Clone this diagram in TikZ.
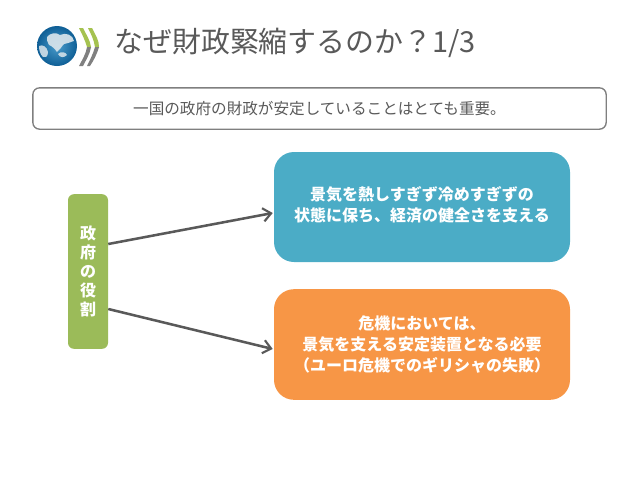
\documentclass[tikz,border=0pt]{standalone}
\usepackage{fontspec}
\setmainfont{Noto Sans CJK JP}
\usetikzlibrary{arrows.meta,calc}
\definecolor{txtgray}{HTML}{595959}
\definecolor{linegray}{HTML}{7F7F7F}
\definecolor{arrowgray}{HTML}{595959}
\definecolor{teal1}{HTML}{4BACC6}
\definecolor{orange1}{HTML}{F79646}
\definecolor{green1}{HTML}{9BBB59}
\definecolor{globein}{HTML}{4A9CCB}
\definecolor{globeout}{HTML}{0F5F96}
\definecolor{landc}{HTML}{DCE6EC}
\tikzset{
  panel/.style={rounded corners=15pt,minimum width=222pt,align=center,text=white,font=\fontsize{12}{16}\selectfont\bfseries,inner sep=0pt},
  conn/.style={draw=arrowgray,line width=1.9pt,-{Straight Barb[length=6pt,width=10pt,line width=1.6pt]}},
}
\begin{document}
\begin{tikzpicture}[x=0.75pt,y=-0.75pt]
\useasboundingbox (0,0) rectangle (638,479);
% logo
\shade[inner color=globein,outer color=globeout] (57,46) circle (20);
\fill[landc,opacity=.9] (47,37) .. controls (50,33) and (56,32) .. (60,35) .. controls (66,32) and (73,35) .. (74,41) .. controls (70,42) and (67,44) .. (64,44) .. controls (61,47) and (60,50) .. (57,52) .. controls (55,49) and (52,46) .. (49,45) .. controls (48,42) and (46,40) .. (47,37) -- cycle;
\fill[landc,opacity=.85] (39,46) .. controls (43,44) and (47,47) .. (48,52) .. controls (48,57) and (45,58) .. (43,57) .. controls (40,54) and (39,50) .. (39,46) -- cycle;
\fill[landc,opacity=.85] (58,54) .. controls (61,51) and (66,52) .. (67,55) .. controls (64,58) and (60,58) .. (58,54) -- cycle;
\fill[green1!90!yellow] (79,28) -- (83,28) .. controls (87,36) and (90,40) .. (91,47) -- (87,47) .. controls (85,40) and (82,34) .. (79,28) -- cycle;
\fill[green1!90!yellow] (88,28) -- (92,28) .. controls (96,36) and (99,40) .. (99,47) -- (95,47) .. controls (94,40) and (91,34) .. (88,28) -- cycle;
\fill[gray] (87,47) -- (91,47) .. controls (90,54) and (86,60) .. (83,66) -- (79,66) .. controls (82,60) and (86,54) .. (87,47) -- cycle;
\fill[gray] (95,47) -- (99,47) .. controls (97,54) and (94,60) .. (90,66) -- (87,66) .. controls (90,60) and (93,54) .. (95,47) -- cycle;
% title
\node[anchor=west,inner sep=0pt,text=txtgray,font=\fontsize{21.7}{25}\selectfont] (title) at (114,43) {なぜ財政緊縮するのか？1/3};
% subtitle box
\node[draw=linegray,line width=1pt,rounded corners=5pt,minimum width=430pt,minimum height=31pt,inner sep=0pt,text=txtgray,font=\fontsize{11.7}{14}\selectfont] (lead) at (319.5,108.5) {一国の政府の財政が安定していることはとても重要。};
% role
\node[fill=green1,rounded corners=4.5pt,minimum width=30pt,minimum height=116pt,inner sep=0pt,align=center,text=white,font=\fontsize{12}{14.3}\selectfont\bfseries] (role) at (88,271.5) {政\\府\\の\\役\\割};
% panels
\node[panel,fill=teal1,minimum height=82.5pt] (calm) at (422,207) {\raisebox{10.5pt}{\begin{tabular}{@{}c@{}}景気を熱しすぎず冷めすぎずの\\[-0.5pt]状態に保ち、経済の健全さを支える\end{tabular}}};
\node[panel,fill=orange1,minimum height=83pt] (crisis) at (422,344.5) {危機においては、\\景気を支える安定装置となる必要\\（ユーロ危機でのギリシャの失敗）};
% connectors
\coordinate (r1) at ($(role.east)+(0,-27.5)$);
\coordinate (r2) at ($(role.east)+(0,37.5)$);
\coordinate (c1) at ($(calm.west)+(-1,6)$);
\coordinate (c2) at ($(crisis.west)+(-1,4.5)$);
\draw[conn] (r1) -- (c1);
\draw[conn] (r2) -- (c2);
\end{tikzpicture}
\end{document}
